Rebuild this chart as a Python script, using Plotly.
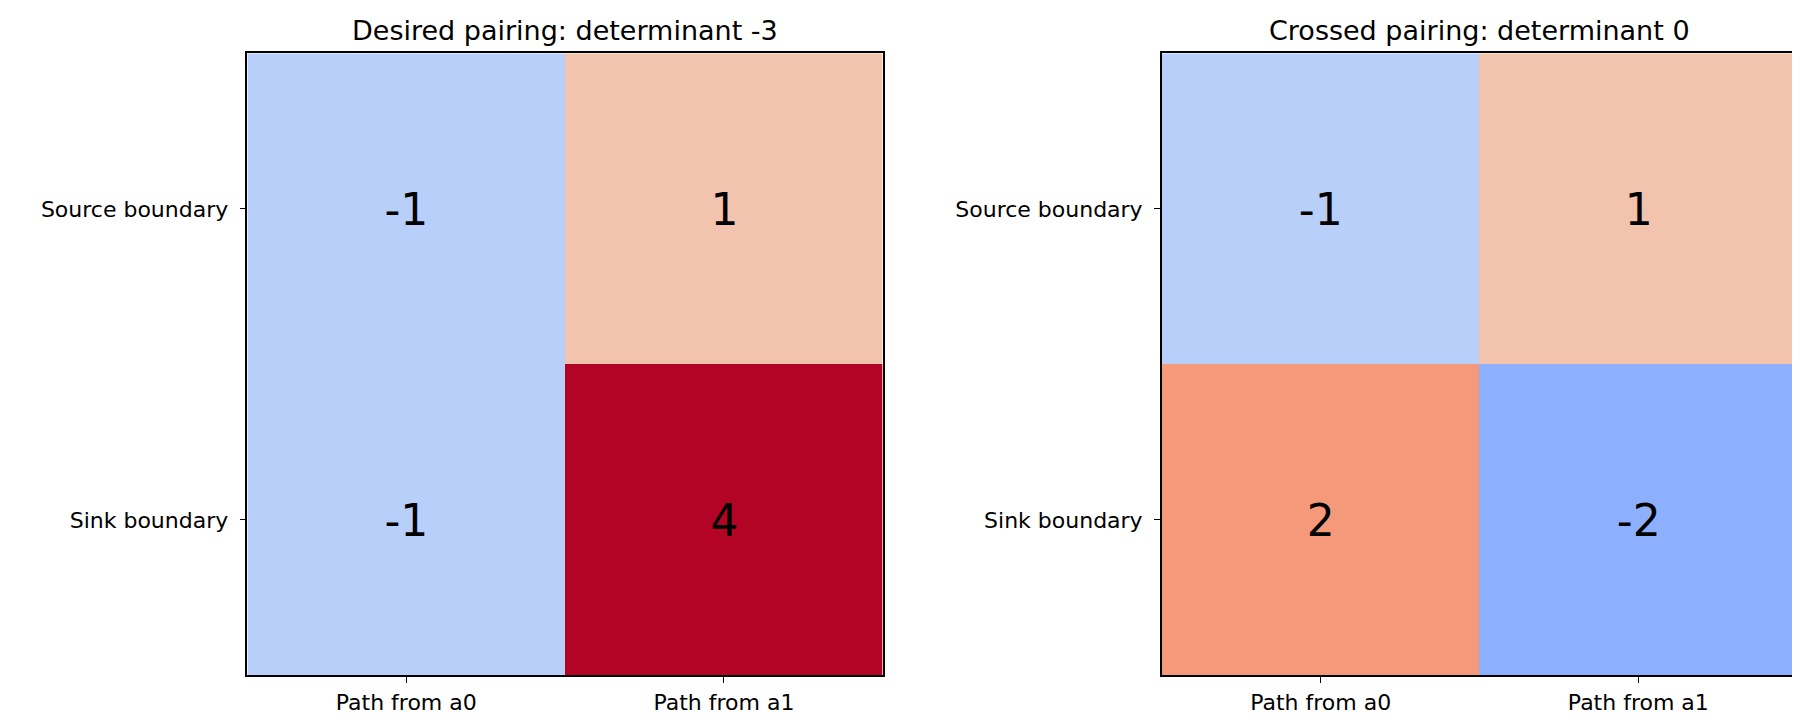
import plotly.graph_objects as go

x_labels = ["Path from a0", "Path from a1"]
y_labels = ["Source boundary", "Sink boundary"]
desired = [[-1, 1], [-1, 4]]
crossed = [[-1, 1], [2, -2]]
titles = ["Desired pairing: determinant -3", "Crossed pairing: determinant 0"]

coolwarm = [[0, "#3b4cc0"], [0.125, "#6282ea"], [0.25, "#8db0fe"], [0.375, "#b8d0f9"],
            [0.5, "#dddcdc"], [0.625, "#f2c4ae"], [0.75, "#f49a7b"], [0.875, "#dd5f4b"], [1, "#b40426"]]

fig = go.Figure()
doms = [[0.133, 0.486], [0.641, 0.994]]
ydom = [0.073, 0.937]
for i, z in enumerate([desired, crossed]):
    xa = "x" if i == 0 else "x2"
    ya = "y" if i == 0 else "y2"
    fig.add_trace(go.Heatmap(z=z, x=x_labels, y=y_labels, colorscale=coolwarm, zmin=-4, zmax=4,
                             showscale=False, text=z, texttemplate="%{text}",
                             textfont=dict(size=44, color="black", family="DejaVu Sans"),
                             xaxis=xa, yaxis=ya, hoverinfo="skip"))
    ax = dict(domain=doms[i], showline=True, mirror=True, linecolor="black", linewidth=1.5,
              ticks="outside", ticklen=6, tickcolor="black", showgrid=False, zeroline=False,
              tickfont=dict(size=22, color="black"), automargin=False, anchor=ya)
    ay = dict(domain=ydom, showline=True, mirror=True, linecolor="black", linewidth=1.5,
              ticks="outside", ticklen=6, tickcolor="black", showgrid=False, zeroline=False,
              autorange="reversed", tickfont=dict(size=22, color="black"),
              anchor=xa, ticksuffix=" ", automargin=False)
    fig.layout["xaxis" if i == 0 else "xaxis2"] = ax
    fig.layout["yaxis" if i == 0 else "yaxis2"] = ay
    fig.add_annotation(text=titles[i], x=sum(doms[i]) / 2, y=0.945, xref="paper", yref="paper",
                       xanchor="center", showarrow=False, yanchor="bottom",
                       font=dict(size=27, color="black"))

fig.update_layout(width=1800, height=720, margin=dict(l=0, r=0, t=0, b=0, autoexpand=False),
                  plot_bgcolor="white", paper_bgcolor="white",
                  font=dict(family="DejaVu Sans"))
fig.write_html("out.html")
